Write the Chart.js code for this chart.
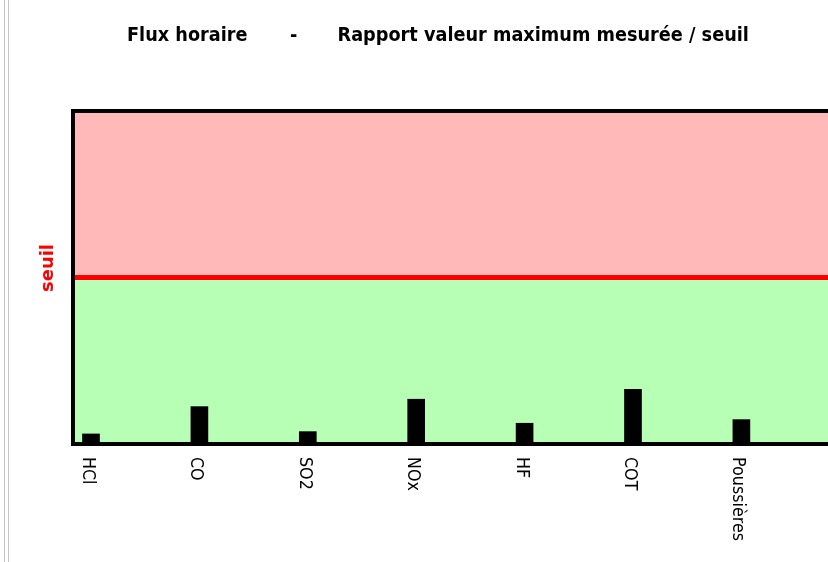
<!DOCTYPE html>
<html>
<head>
<meta charset="utf-8">
<script src="https://cdn.jsdelivr.net/npm/chart.js@4.4.1/dist/chart.umd.min.js"></script>
<style>
  html, body { margin: 0; padding: 0; background: #ffffff; overflow: hidden; }
  canvas { display: block; }
</style>
</head>
<body>
<canvas id="c" width="828" height="562"></canvas>
<script>
// ---- data ----
const categories = ['HCl', 'CO', 'SO2', 'NOx', 'HF', 'COT', 'Poussières'];
const ratios = [0.049, 0.215, 0.063, 0.26, 0.114, 0.32, 0.136];
const seuil = 1;
const yMax = 2;
const titleParts = ['Flux horaire', '-', 'Rapport valeur maximum mesurée / seuil'];
const yTitle = 'seuil';

const FONT = '"DejaVu Sans", Verdana, sans-serif';
const SX = 0.885; // narrower, Tahoma-like rendering

const decor = {
  id: 'decor',
  beforeDraw(chart) {
    const ctx = chart.ctx;
    ctx.save();
    ctx.fillStyle = '#ffffff';
    ctx.fillRect(0, 0, chart.width, chart.height);
    ctx.strokeStyle = '#c4c4c4';
    ctx.lineWidth = 1;
    [4.5, 8.5].forEach(x => {
      ctx.beginPath(); ctx.moveTo(x, 0); ctx.lineTo(x, chart.height); ctx.stroke();
    });
    ctx.restore();
  },
  beforeDatasetsDraw(chart) {
    const { ctx, chartArea: a, scales: { y } } = chart;
    const ySeuil = y.getPixelForValue(seuil);
    const yTop = y.getPixelForValue(yMax);
    const yBot = y.getPixelForValue(0);
    ctx.save();
    ctx.fillStyle = '#ffb9b9';
    ctx.fillRect(a.left, yTop, a.right - a.left, ySeuil - yTop);
    ctx.fillStyle = '#b8ffb6';
    ctx.fillRect(a.left, ySeuil, a.right - a.left, yBot - ySeuil);
    ctx.restore();
  },
  afterDatasetsDraw(chart) {
    const { ctx, chartArea: a, scales: { x, y } } = chart;
    const ySeuil = y.getPixelForValue(seuil);
    ctx.save();
    // seuil line
    ctx.strokeStyle = '#ff0000';
    ctx.lineWidth = 5;
    ctx.beginPath(); ctx.moveTo(a.left, ySeuil); ctx.lineTo(a.right, ySeuil); ctx.stroke();
    // frame
    ctx.strokeStyle = '#000000';
    ctx.lineWidth = 4;
    ctx.lineCap = 'butt';
    ctx.beginPath();
    ctx.moveTo(a.right, a.top - 2); ctx.lineTo(a.left - 2, a.top - 2);
    ctx.lineTo(a.left - 2, a.bottom + 2); ctx.lineTo(a.right, a.bottom + 2);
    ctx.stroke();

    // category labels (rotated clockwise)
    ctx.fillStyle = '#000000';
    ctx.font = '18px ' + FONT;
    ctx.textAlign = 'left';
    ctx.textBaseline = 'alphabetic';
    categories.forEach((lab, i) => {
      const px = x.getPixelForValue(i);
      ctx.save();
      ctx.translate(px - 8, a.bottom + 15);
      ctx.rotate(Math.PI / 2);
      ctx.scale(SX, 1);
      ctx.fillText(lab, 0, 0);
      ctx.restore();
    });

    // y title
    ctx.save();
    ctx.fillStyle = '#ff0000';
    ctx.font = 'bold 18px ' + FONT;
    ctx.textAlign = 'center';
    ctx.translate(53, 268);
    ctx.rotate(-Math.PI / 2);
    ctx.fillText(yTitle, 0, 0);
    ctx.restore();

    // title
    ctx.fillStyle = '#000000';
    ctx.font = 'bold 20px ' + FONT;
    const tx = [127, 290, 337.5];
    titleParts.forEach((t, i) => {
      ctx.save();
      ctx.translate(tx[i], 41);
      ctx.scale(SX, 1);
      ctx.textAlign = 'left';
      ctx.fillText(t, 0, 0);
      ctx.restore();
    });
    ctx.restore();
  }
};

new Chart(document.getElementById('c'), {
  type: 'bar',
  data: {
    datasets: [{
      data: ratios.map((v, i) => ({ x: i, y: v })),
      backgroundColor: '#000000',
      borderWidth: 0,
      barThickness: 17
    }]
  },
  options: {
    responsive: false,
    animation: false,
    layout: { padding: { left: 75, right: 0, top: 113, bottom: 120 } },
    plugins: { legend: { display: false }, tooltip: { enabled: false }, title: { display: false } },
    scales: {
      x: { type: 'linear', offset: false, grid: { offset: false }, min: -0.1476, max: 6.799, display: false },
      y: { type: 'linear', min: 0, max: yMax, display: false }
    }
  },
  plugins: [decor]
});
</script>
</body>
</html>
